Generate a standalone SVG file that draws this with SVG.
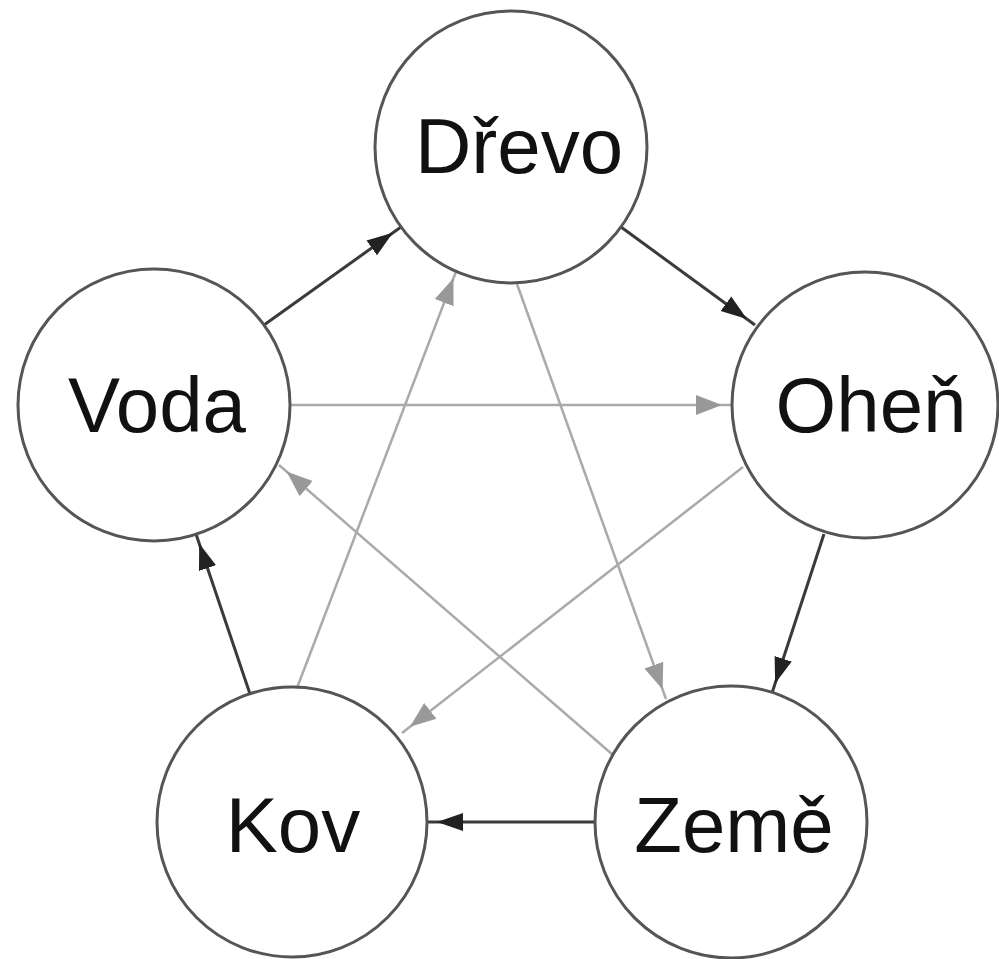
<svg xmlns="http://www.w3.org/2000/svg" width="999" height="959" viewBox="0 0 999 959">
<style>
.node circle{fill:#fff;stroke:#555;stroke-width:3}
.node text{font-family:"Liberation Sans",Arial,sans-serif;font-size:78px;fill:#111;text-anchor:middle}
.gen{stroke:#3a3a3a;stroke-width:3;fill:none}
.ctl{stroke:#aaa;stroke-width:2.5;fill:none}
</style>
<defs>
<marker id="ad" markerUnits="userSpaceOnUse" viewBox="0 -12 40 24" markerWidth="40" markerHeight="24" refX="36" refY="0" orient="auto">
<path d="M0,-9 L26,0 L0,9 z" fill="#222"/>
</marker>
<marker id="ag" markerUnits="userSpaceOnUse" viewBox="0 -12 40 24" markerWidth="40" markerHeight="24" refX="36" refY="0" orient="auto">
<path d="M0,-10 L26,0 L0,10 z" fill="#999"/>
</marker>
</defs>
<g id="connectors">
<line class="ctl" x1="290" y1="405" x2="732" y2="405" marker-end="url(#ag)"/>
<line class="ctl" x1="743" y1="467" x2="402" y2="733" marker-end="url(#ag)"/>
<line class="ctl" x1="297" y1="688" x2="457" y2="269" marker-end="url(#ag)"/>
<line class="ctl" x1="517" y1="284" x2="666" y2="699" marker-end="url(#ag)"/>
<line class="ctl" x1="613" y1="755" x2="279" y2="465" marker-end="url(#ag)"/>
<line class="gen" x1="264" y1="325" x2="401" y2="227" marker-end="url(#ad)"/>
<line class="gen" x1="621" y1="227" x2="755" y2="325" marker-end="url(#ad)"/>
<line class="gen" x1="824" y1="534" x2="772" y2="693" marker-end="url(#ad)"/>
<line class="gen" x1="595" y1="822" x2="427" y2="822" marker-end="url(#ad)"/>
<line class="gen" x1="250" y1="694" x2="196" y2="534" marker-end="url(#ad)"/>
</g>
<g id="drevo" class="node"><circle cx="511" cy="147" r="136"/><text x="519" y="173">Dřevo</text></g>
<g id="ohen" class="node"><circle cx="865" cy="405" r="133"/><text x="871" y="432">Oheň</text></g>
<g id="voda" class="node"><circle cx="154" cy="405" r="136"/><text x="157" y="432">Voda</text></g>
<g id="kov" class="node"><circle cx="292" cy="822" r="135"/><text x="293" y="852">Kov</text></g>
<g id="zeme" class="node"><circle cx="731" cy="822" r="136"/><text x="734" y="852">Země</text></g>
</svg>
